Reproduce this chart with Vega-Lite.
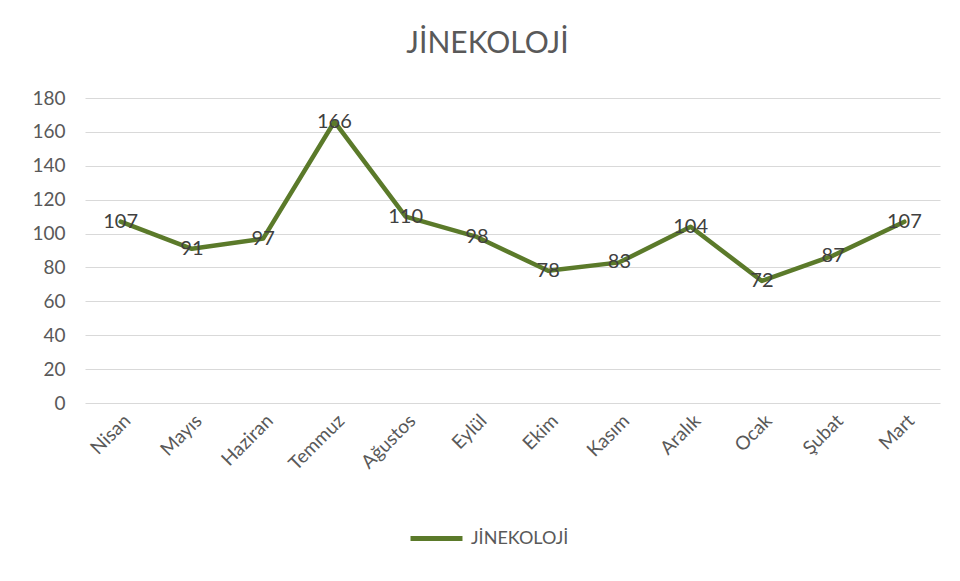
{
  "$schema": "https://vega.github.io/schema/vega-lite/v6.json",
  "autosize": {"type": "none"},
  "width": 855,
  "height": 305,
  "padding": {"left": 85, "top": 98, "right": 20, "bottom": 178},
  "background": "white",
  "title": {
    "text": "JİNEKOLOJİ",
    "font": "Lato",
    "fontSize": 30,
    "fontWeight": "normal",
    "color": "#595959",
    "anchor": "middle",
    "frame": "group",
    "dx": -25,
    "offset": 30
  },
  "data": {
    "values": [
      {"ay": "Nisan", "deger": 107, "seri": "JİNEKOLOJİ"},
      {"ay": "Mayıs", "deger": 91, "seri": "JİNEKOLOJİ"},
      {"ay": "Haziran", "deger": 97, "seri": "JİNEKOLOJİ"},
      {"ay": "Temmuz", "deger": 166, "seri": "JİNEKOLOJİ"},
      {"ay": "Ağustos", "deger": 110, "seri": "JİNEKOLOJİ"},
      {"ay": "Eylül", "deger": 98, "seri": "JİNEKOLOJİ"},
      {"ay": "Ekim", "deger": 78, "seri": "JİNEKOLOJİ"},
      {"ay": "Kasım", "deger": 83, "seri": "JİNEKOLOJİ"},
      {"ay": "Aralık", "deger": 104, "seri": "JİNEKOLOJİ"},
      {"ay": "Ocak", "deger": 72, "seri": "JİNEKOLOJİ"},
      {"ay": "Şubat", "deger": 87, "seri": "JİNEKOLOJİ"},
      {"ay": "Mart", "deger": 107, "seri": "JİNEKOLOJİ"}
    ]
  },
  "encoding": {
    "x": {
      "field": "ay",
      "type": "nominal",
      "sort": null,
      "scale": {"paddingInner": 0, "paddingOuter": 0.5},
      "axis": {
        "title": null,
        "labelAngle": -45,
        "labelAlign": "right",
        "labelBaseline": "top",
        "labelFont": "Lato",
        "labelFontSize": 19,
        "labelColor": "#595959",
        "labelPadding": 8,
        "ticks": false,
        "domain": false,
        "grid": false
      }
    },
    "y": {
      "field": "deger",
      "type": "quantitative",
      "scale": {"domain": [0, 180], "nice": false},
      "axis": {
        "title": null,
        "values": [0, 20, 40, 60, 80, 100, 120, 140, 160, 180],
        "labelFont": "Lato",
        "labelFontSize": 19,
        "labelColor": "#595959",
        "labelPadding": 20,
        "ticks": false,
        "domain": false,
        "grid": true,
        "gridColor": "#d9d9d9",
        "gridWidth": 1
      }
    }
  },
  "layer": [
    {
      "mark": {"type": "line", "strokeWidth": 4.5, "strokeJoin": "round", "strokeCap": "round"},
      "encoding": {
        "color": {
          "field": "seri",
          "type": "nominal",
          "scale": {"range": ["#5b7a2a"]},
          "legend": {
            "title": null,
            "orient": "none",
            "legendX": 323,
            "legendY": 412,
            "symbolType": "stroke",
            "symbolSize": 2700,
            "symbolStrokeWidth": 5,
            "labelFont": "Lato",
            "labelFontSize": 18,
            "labelColor": "#595959",
            "labelOffset": 6
          }
        }
      }
    },
    {
      "mark": {"type": "text", "font": "Lato", "fontSize": 20, "color": "#404040", "baseline": "middle", "align": "center"},
      "encoding": {"text": {"field": "deger", "type": "quantitative"}}
    }
  ],
  "config": {"view": {"stroke": null}}
}
